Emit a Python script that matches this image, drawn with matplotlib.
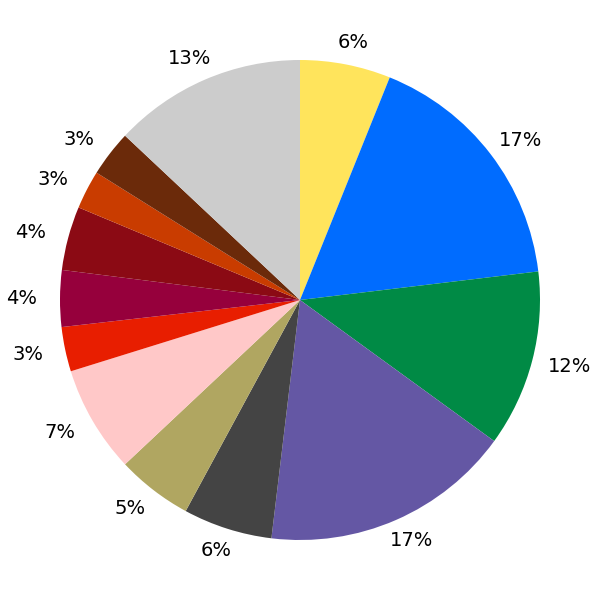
import matplotlib
matplotlib.use("Agg")
import matplotlib.pyplot as plt
import numpy as np

shares = [6.1, 17.0, 11.9, 16.9, 6.0, 5.1, 7.2, 3.0, 3.8, 4.3, 2.6, 3.1, 13.0]
colors = ["#FFE45C", "#006CFF", "#008A45", "#6457A4", "#444444", "#B0A661",
          "#FFC8C8", "#E81E00", "#96003C", "#8B0A14", "#C93C00", "#6B2A0A", "#CCCCCC"]

fig = plt.figure(figsize=(6, 6), dpi=100)
ax = fig.add_axes([0, 0, 1, 1])
wedges, _ = ax.pie(shares, colors=colors, startangle=90, counterclock=False)

# labels sit on a slightly flattened ring outside the pie
total = sum(shares)
for w, s in zip(wedges, shares):
    ang = np.deg2rad((w.theta1 + w.theta2) / 2)
    ax.text(1.16 * np.cos(ang), 1.095 * np.sin(ang), f"{s / total * 100:.0f}%",
            ha="center", va="center", fontsize=14, family="DejaVu Sans")

ax.set_xlim(-1.25, 1.25)
ax.set_ylim(-1.25, 1.25)
ax.set_aspect("equal")
ax.axis("off")
fig.savefig("out.png", dpi=100)
